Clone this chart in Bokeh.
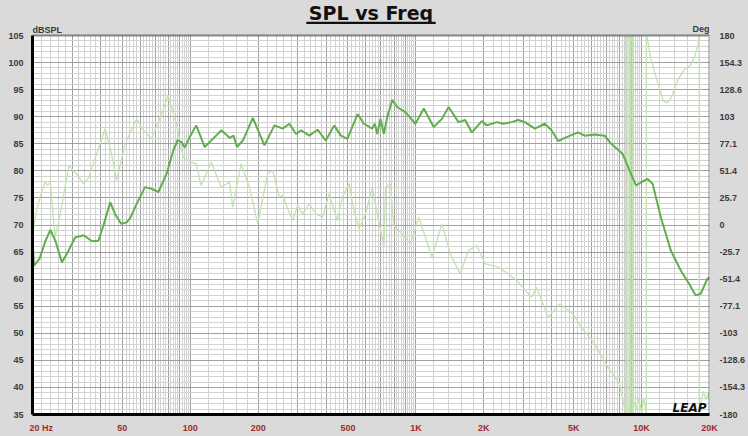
from bokeh.plotting import figure
from bokeh.models import Range1d, LinearAxis, FixedTicker, Label, BoxAnnotation
from bokeh.embed import file_html
from bokeh.resources import INLINE

# ---------------- data ----------------
spl_freq = [20, 20.3, 21.5, 22.8, 24.0, 25.3, 27.0, 28.5, 30.9, 33.7, 36.7, 39.2, 41.5, 44.2, 46.5,
            49.5, 52.3, 54.4, 57.9, 63.0, 67.3, 72.3, 78.6, 84.2, 88.0, 91.3, 94.6, 99.1, 106.3,
            115.9, 126, 137.4, 149.4, 155.7, 161, 171.1, 189.4, 213.3, 236, 256.8, 274.9, 294.3,
            309.8, 336.7, 366.7, 398.9, 434.5, 464.9, 497, 551, 589, 640.5, 658, 674, 697, 721,
            746, 785, 826, 900, 995, 1084, 1199, 1304, 1396, 1545, 1654, 1770, 1959, 2061, 2281,
            2439, 2655, 2843, 3042, 3366, 3724, 3989, 4269, 4571, 5229, 5596, 6195, 6860, 7337,
            8259, 8838, 9450, 9947, 10645, 11195, 12180, 13480, 14920, 16260, 17380, 18280,
            19590, 20000]
spl_db = [67.8, 62.5, 63.8, 67.0, 69.1, 67.0, 63.1, 64.8, 67.7, 68.1, 67.0, 67.1, 70.3, 74.2, 72.0,
          70.2, 70.5, 71.4, 73.9, 77.0, 76.7, 76.1, 79.5, 83.8, 85.7, 85.3, 84.3, 86.1, 88.4,
          84.4, 85.9, 87.5, 86.1, 86.5, 84.4, 85.6, 89.8, 84.7, 88.4, 87.8, 88.7, 86.8,
          87.5, 86.5, 87.6, 85.6, 88.4, 86.5, 85.9, 90.5, 88.7, 87.8, 88.7, 86.8, 89.6, 86.8,
          89.9, 93.1, 91.8, 90.8, 88.7, 91.5, 88.1, 89.6, 91.8, 89.0, 89.4, 87.1, 89.2, 88.4, 89.0,
          88.7, 89.0, 89.4, 89.0, 87.8, 88.7, 87.5, 85.5, 86.1, 87.1, 86.5, 86.7, 86.5, 85.0,
          83.1, 80.1, 77.3, 77.9, 78.5, 77.6, 71.4, 65.3, 61.6, 59.1, 57.0, 57.3,
          60.1, 60.3]

phase_freq = [20, 20.5, 21.0, 22.0, 22.7, 23.3, 24.0, 25.2, 26.5, 29.0, 31.5, 33.7, 35.5, 37.2, 42.0,
              44.5, 47.2, 51.5, 57.9, 62, 67.3, 73, 79.8, 86.9, 93.0, 100, 106.3, 111.7, 124.0,
              137.2, 149.3, 154.3, 168.0, 182.9, 199.1, 220.3, 232, 248, 256.8, 270.2, 284.3,
              299.1, 314.7, 336.7, 360.4, 385.5, 412.5, 434, 448.8, 472.2, 505.4, 531.8, 559.7,
              599, 640.5, 674, 721.5, 734, 772, 798, 868.5, 946, 1029, 1178, 1304, 1420, 1572,
              1710, 1861, 2026, 2319, 2568, 2794, 2891, 3253, 3424, 3855, 4341, 4970, 5407, 6196,
              7089, 7984, 8398, 8500, 8500, 8560, 8650, 8700, 8700, 8800, 8900, 8950, 8950, 9000,
              9100, 9100, 9300, 9500, 9700, 10000, 10200, 10400, 10500, 10500, 10650, 11000,
              11800, 12500, 13000, 13600, 14500, 15500, 16500, 17200, 17800, 18000, 18000,
              18400, 18800, 19300, 19700, 20000]
phase_deg = [-10, 5, 17, 32, 40.7, 38, 40, -12, 10, 56.5, 48, 39.1, 45, 58.1, 91.4,
             70, 42.3, 77.1, 100.9, 90, 81.9, 100, 123, 96.1, 64.4, 60, 58.1, 37.5, 59.6,
             35.9, 40.7, 16.9, 58.1, 35.9, 1.1, 48.6, 52, 26.4, 28, 15.4, 4.3,
             18.5, 10.6, 20.1, 10.6, 7.4, 29.6, 13.8, 4.3, 26.4, 39.1, 13.8, -3.6,
             10.6, 35.9, 10.6, -21.1, 35.9, 39.1, -0.5, -8.4, -17.9, 7.4, -30.6, 1.1, -27.4, -46.4,
             -24.2, -19.5, -36.9, -40.1, -46.4, -52.7, -55.9, -68.6, -59.1, -87.6, -74.9, -84.4, -97.1, -112.9,
             -135.1, -150.9, -173.1, -180, 180, 176, 178, 180, -180, -172, -178, -180, 180, 176,
             180, -180, -168, -175, -164, -178, -165, -172, -180, 180, 175, 158,
             135, 118, 116, 122, 138, 148, 152, 160, 172, 180, -180,
             -166, -158, -166, -160, -168]

x_tick_values = [20, 50, 100, 200, 500, 1000, 2000, 5000, 10000, 20000]
x_tick_labels = ["20  Hz", "50", "100", "200", "500", "1K", "2K", "5K", "10K", "20K"]
db_ticks = [35, 40, 45, 50, 55, 60, 65, 70, 75, 80, 85, 90, 95, 100, 105]
deg_ticks = [-180 + i * 360 / 14 for i in range(15)]
deg_labels = ["-180", "-154.3", "-128.6", "-103", "-77.1", "-51.4", "-25.7", "0",
              "25.7", "51.4", "77.1", "103", "128.6", "154.3", "180"]

F_MIN, F_MAX = 20, 20000
DB_MIN, DB_MAX = 35, 105
DEG_MIN, DEG_MAX = -180, 180

# ---------------- layout (page pixels) ----------------
W, H = 748, 436
PX_LEFT, PX_RIGHT, PX_TOP, PX_BOTTOM = 32, 712, 35, 414
px_per_decade = (PX_RIGHT - PX_LEFT) / 3.0
px_per_db = (PX_BOTTOM - PX_TOP) / float(DB_MAX - DB_MIN)


def hz_at(px):
    return F_MIN * 10 ** ((px - PX_LEFT) / px_per_decade)


def db_at(py):
    return DB_MAX + (PX_TOP - py) / px_per_db


DB_TOP = db_at(0)  # frame extends up to the page top (title area)
DEG_TOP = DEG_MIN + (DB_TOP - DB_MIN) * (DEG_MAX - DEG_MIN) / (DB_MAX - DB_MIN)

# grid lines
x_major_grid = [d * 10 ** k for k in (1, 2, 3, 4) for d in range(1, 10) if F_MIN <= d * 10 ** k <= F_MAX]
x_minor_grid = []
for start, stop, step in ((20, 100, 2), (100, 1000, 20), (1000, 10000, 200), (10000, 20000, 2000)):
    v = start
    while v < stop:
        if v not in x_major_grid:
            x_minor_grid.append(v)
        v += step
y_minor_grid = [v for v in range(DB_MIN, DB_MAX + 1) if v % 5 != 0]

BG = "#dadada"
LABEL_FONT = "Liberation Sans"
LABEL_GREY = "#3a3a3a"
TICK_RED = "#9e2b2b"

p = figure(width=W, height=H, x_axis_type="log", title=None,
           x_range=Range1d(F_MIN, F_MAX), y_range=Range1d(DB_MIN, DB_TOP),
           output_backend="svg", toolbar_location=None,
           min_border_left=PX_LEFT, min_border_right=W - PX_RIGHT,
           min_border_top=0, min_border_bottom=H - PX_BOTTOM,
           background_fill_color=BG, border_fill_color=BG,
           outline_line_color=None)
if p.title is not None:
    p.title.visible = False

# white plotting area (under the grid)
p.add_layout(BoxAnnotation(left=F_MIN, right=F_MAX, bottom=DB_MIN, top=DB_MAX,
                           fill_color="white", fill_alpha=1, line_color=None, level="image"))

# grids
p.xgrid.ticker = FixedTicker(ticks=x_major_grid, minor_ticks=x_minor_grid)
p.xgrid.grid_line_color = "#a0a0a0"
p.xgrid.minor_grid_line_color = "#d2d2d2"
p.ygrid.ticker = FixedTicker(ticks=db_ticks, minor_ticks=y_minor_grid)
p.ygrid.grid_line_color = "#a0a0a0"
p.ygrid.minor_grid_line_color = "#d2d2d2"

# cover the grid above the plotting area (title zone)
p.add_layout(BoxAnnotation(left=F_MIN, right=F_MAX, bottom=DB_MAX, top=DB_TOP,
                           fill_color=BG, fill_alpha=1, line_color=None, level="glyph"))

# x axis (the "20 Hz" label is left-aligned at the axis start in the original)
x_label_ticks = [hz_at(PX_LEFT + 10)] + x_tick_values[1:]
p.xaxis.ticker = FixedTicker(ticks=x_label_ticks)
p.xaxis.major_label_overrides = {v: l for v, l in zip(x_label_ticks, x_tick_labels)}
p.xaxis.major_label_text_color = TICK_RED
p.xaxis.major_label_text_font = LABEL_FONT
p.xaxis.major_label_text_font_style = "bold"
p.xaxis.major_label_text_font_size = "9px"
p.xaxis.major_label_standoff = 2
p.xaxis.major_tick_line_color = None
p.xaxis.minor_tick_line_color = None
p.xaxis.axis_line_color = "black"
p.xaxis.axis_line_width = 3

# left y axis
p.yaxis.ticker = FixedTicker(ticks=db_ticks)
p.yaxis.bounds = (DB_MIN, DB_MAX)
p.yaxis.major_label_text_color = LABEL_GREY
p.yaxis.major_label_text_font = LABEL_FONT
p.yaxis.major_label_text_font_style = "bold"
p.yaxis.major_label_text_font_size = "9px"
p.yaxis.major_label_standoff = 3
p.yaxis.major_tick_line_color = None
p.yaxis.minor_tick_line_color = None
p.yaxis.axis_line_color = "black"
p.yaxis.axis_line_width = 3

# right phase axis
p.extra_y_ranges = {"phase": Range1d(DEG_MIN, DEG_TOP)}
rax = LinearAxis(y_range_name="phase", ticker=FixedTicker(ticks=deg_ticks), bounds=(DEG_MIN, DEG_MAX),
                 major_label_overrides=dict(zip(deg_ticks, deg_labels)),
                 major_label_text_color=LABEL_GREY, major_label_text_font=LABEL_FONT,
                 major_label_text_font_style="bold", major_label_text_font_size="9px",
                 major_label_standoff=4, major_tick_line_color=None, minor_tick_line_color=None,
                 axis_line_color=None)
p.add_layout(rax, "right")

# curves
p.line(phase_freq, phase_deg, y_range_name="phase", line_color="#c2e2b0", line_width=1.3)
p.line(spl_freq, spl_db, line_color="#62ad4c", line_width=2)

# plot border
p.add_layout(BoxAnnotation(left=F_MIN, right=F_MAX, bottom=DB_MIN, top=DB_MAX,
                           fill_alpha=0, line_color="black", line_width=2.5, level="overlay"))

# texts
p.add_layout(Label(x=hz_at(372), y=db_at(12.0), text="SPL vs Freq", text_align="center",
                   text_baseline="middle", text_font="DejaVu Sans", text_font_style="bold",
                   text_font_size="19px", text_color="#111111"))
p.add_layout(BoxAnnotation(left=hz_at(307), right=hz_at(437), bottom=db_at(23.5), top=db_at(21.3),
                           fill_color="#111111", fill_alpha=1, line_color=None, level="overlay"))
p.add_layout(Label(x=F_MIN, y=db_at(29.5), text="dBSPL", text_align="left", text_baseline="middle",
                   text_font=LABEL_FONT, text_font_style="bold", text_font_size="9px",
                   text_color=LABEL_GREY))
p.add_layout(Label(x=F_MAX, y=db_at(28.5), text="Deg", text_align="right", text_baseline="middle",
                   text_font=LABEL_FONT, text_font_style="bold", text_font_size="9px",
                   text_color=LABEL_GREY))
p.add_layout(Label(x=hz_at(709), y=db_at(407), text="LEAP", text_align="right", text_baseline="middle",
                   text_font="DejaVu Sans", text_font_style="bold italic", text_font_size="12px",
                   text_color="#111111"))

html = file_html(p, INLINE, title="SPL vs Freq")
html = html.replace("</head>", "<style>body{background:%s;}</style></head>" % BG, 1)
open("out.html", "w").write(html)
